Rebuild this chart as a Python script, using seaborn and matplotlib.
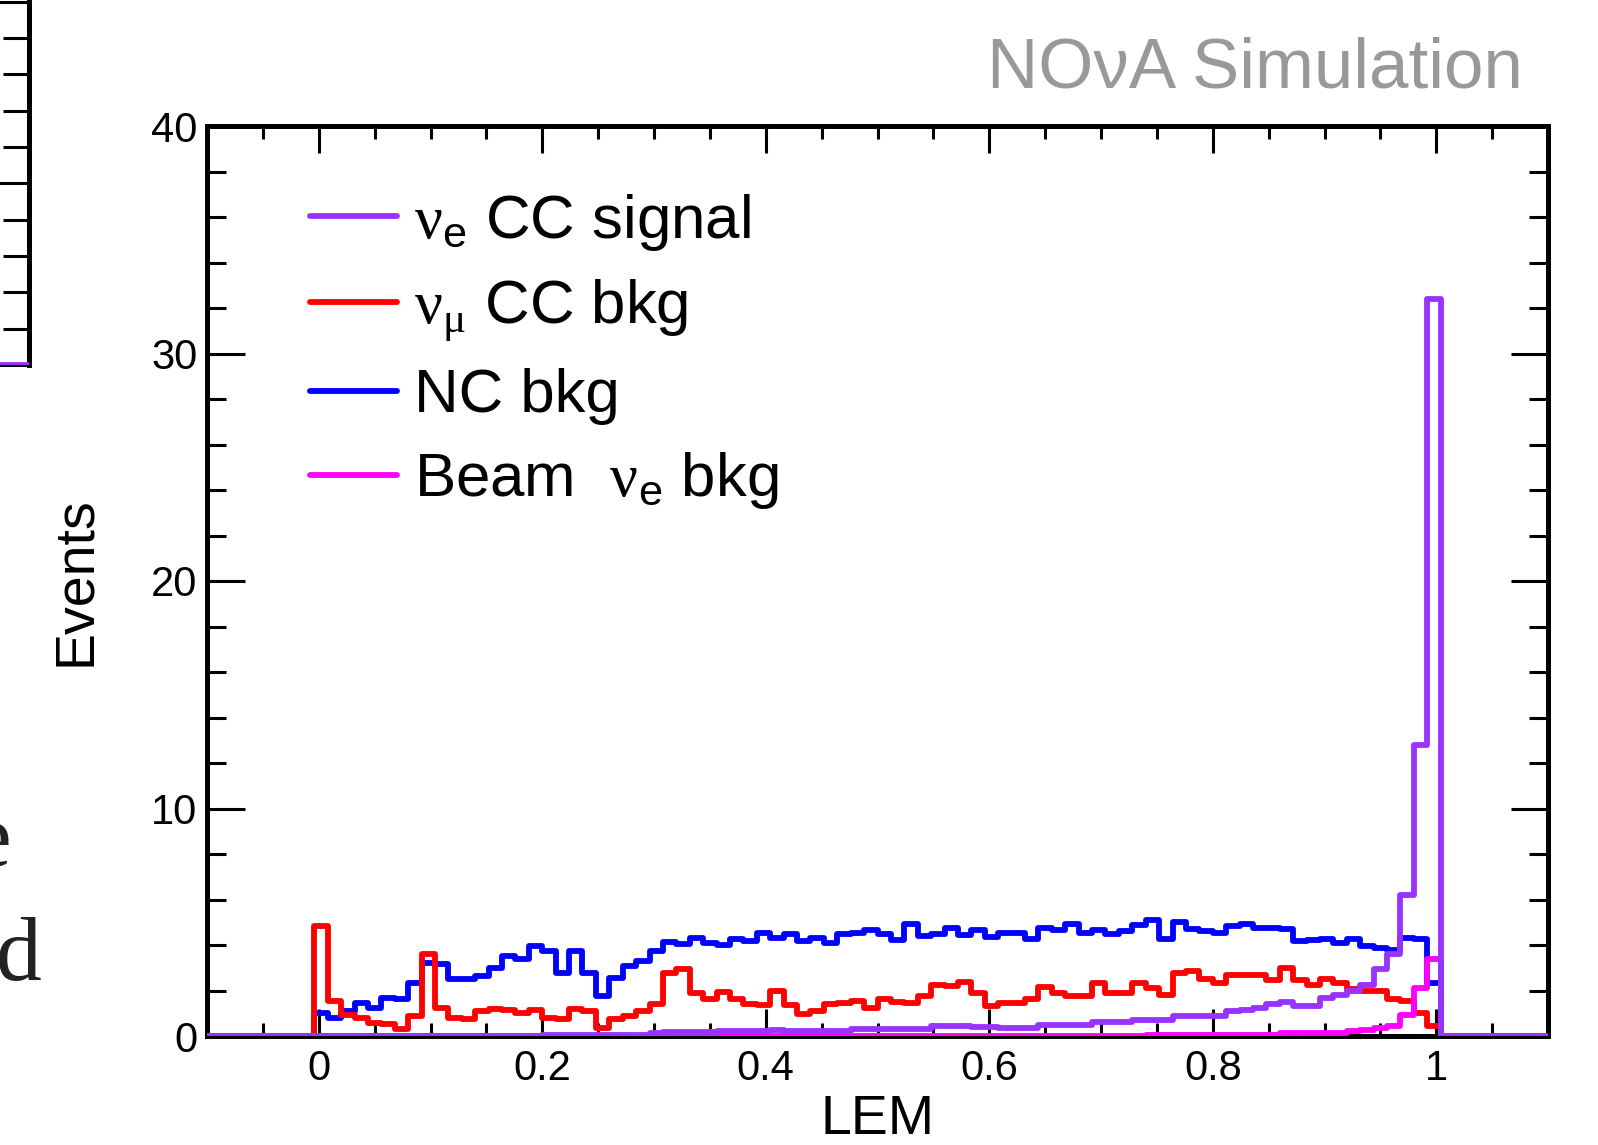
import numpy as np
import matplotlib.pyplot as plt
import matplotlib.ticker as mticker
import seaborn as sns

# LEM histogram: 100 bins of width 0.012 from -0.1 to 1.1
lem_edges = np.round(np.linspace(-0.1, 1.1, 101), 4)
lem_centers = 0.5 * (lem_edges[:-1] + lem_edges[1:])

nue_signal = [
    0, 0, 0, 0, 0, 0, 0, 0, 0, 0,
    0, 0, 0, 0, 0, 0, 0, 0, 0, 0,
    0, 0, 0, 0, 0, 0.03, 0.03, 0.03, 0.03, 0.03,
    0.03, 0.03, 0.03, 0.13, 0.17, 0.17, 0.17, 0.17, 0.20, 0.20,
    0.20, 0.20, 0.28, 0.24, 0.20, 0.24, 0.24, 0.24, 0.31, 0.31,
    0.31, 0.30, 0.30, 0.32, 0.43, 0.43, 0.43, 0.38, 0.38, 0.33,
    0.33, 0.33, 0.50, 0.50, 0.50, 0.50, 0.62, 0.62, 0.62, 0.72,
    0.72, 0.72, 0.87, 0.87, 0.87, 0.87, 1.10, 1.16, 1.25, 1.40,
    1.50, 1.34, 1.34, 1.68, 1.80, 1.97, 2.26, 2.93, 3.59, 6.20,
    12.8, 32.4, 0, 0, 0, 0, 0, 0, 0, 0,
]
numu_cc = [
    0, 0, 0, 0, 0, 0, 0, 0, 4.85, 1.55,
    0.92, 0.80, 0.58, 0.51, 0.32, 0.87, 3.60, 1.24, 0.80, 0.73,
    1.10, 1.20, 1.14, 1.00, 1.14, 0.80, 0.73, 1.17, 1.10, 0.37,
    0.76, 0.87, 1.10, 1.39, 2.78, 2.96, 1.90, 1.61, 1.93, 1.61,
    1.39, 1.35, 1.97, 1.35, 0.95, 1.10, 1.39, 1.46, 1.54, 1.24,
    1.61, 1.50, 1.44, 1.76, 2.26, 2.19, 2.37, 1.90, 1.31, 1.43,
    1.43, 1.63, 2.16, 1.90, 1.75, 1.75, 2.31, 1.90, 1.90, 2.31,
    2.12, 1.82, 2.75, 2.85, 2.49, 2.34, 2.66, 2.66, 2.66, 2.44,
    2.99, 2.44, 2.26, 2.49, 2.34, 2.07, 1.97, 1.97, 1.63, 1.53,
    1.02, 0.43, 0, 0, 0, 0, 0, 0, 0, 0,
]
nc_bkg = [
    0, 0, 0, 0, 0, 0, 0, 0, 1.00, 0.80,
    1.10, 1.46, 1.24, 1.68, 1.61, 2.34, 3.22, 3.15, 2.49, 2.52,
    2.63, 3.00, 3.52, 3.40, 3.95, 3.74, 2.78, 3.74, 2.75, 1.75,
    2.55, 3.07, 3.29, 3.74, 4.13, 4.03, 4.32, 4.10, 3.98, 4.28,
    4.18, 4.51, 4.32, 4.47, 4.18, 4.32, 4.10, 4.47, 4.51, 4.66,
    4.47, 4.22, 4.91, 4.40, 4.47, 4.76, 4.43, 4.66, 4.37, 4.54,
    4.54, 4.25, 4.76, 4.66, 4.91, 4.54, 4.66, 4.47, 4.62, 4.87,
    5.10, 4.25, 5.01, 4.72, 4.62, 4.54, 4.84, 4.91, 4.76, 4.76,
    4.70, 4.18, 4.22, 4.28, 4.07, 4.28, 3.96, 3.85, 3.80, 4.32,
    4.28, 2.34, 0, 0, 0, 0, 0, 0, 0, 0,
]
beam_nue = [
    0, 0, 0, 0, 0, 0, 0, 0, 0, 0,
    0, 0, 0, 0, 0, 0, 0, 0, 0, 0,
    0, 0, 0, 0, 0, 0, 0, 0, 0, 0,
    0, 0, 0, 0, 0, 0, 0, 0, 0, 0,
    0.02, 0.02, 0.02, 0.02, 0.02, 0.02, 0.02, 0.02, 0.02, 0.02,
    0.02, 0.02, 0.02, 0.02, 0.02, 0.02, 0.02, 0.02, 0.02, 0.02,
    0.02, 0.02, 0.02, 0.02, 0.02, 0.02, 0.02, 0.02, 0.02, 0.02,
    0.06, 0.06, 0.06, 0.06, 0.06, 0.06, 0.06, 0.06, 0.06, 0.06,
    0.13, 0.13, 0.13, 0.13, 0.13, 0.20, 0.25, 0.35, 0.42, 0.94,
    2.10, 3.37, 0, 0, 0, 0, 0, 0, 0, 0,
]

labels = [r"$\mathrm{\nu}_{\mathsf{e}}$ CC signal",
          r"$\mathrm{\nu}_{\mathrm{\mu}}$ CC bkg",
          "NC bkg",
          r"Beam  $\mathrm{\nu}_{\mathsf{e}}$ bkg"]
colors = ["#9933ff", "#ff0000", "#0000ff", "#ff00ff"]

# neighbouring panel that is cut off on the left edge
left_x = [0, 1]
left_tail = [0, 0]

sns.set_style("ticks")
plt.rcParams['font.family'] = ['Liberation Sans', 'DejaVu Sans']
plt.rcParams['mathtext.fontset'] = 'custom'
plt.rcParams['mathtext.rm'] = 'Liberation Serif'
plt.rcParams['mathtext.sf'] = 'Liberation Sans'
plt.rcParams['mathtext.it'] = 'Liberation Sans:italic'
plt.rcParams['text.color'] = 'black'
plt.rcParams['axes.labelcolor'] = 'black'

W, H = 1598, 1145
fig = plt.figure(figsize=(W / 100, H / 100), dpi=100)
ax = fig.add_axes([207 / W, 1 - 1036 / H, (1548 - 207) / W, (1036 - 126) / H])

series = [nue_signal, numu_cc, nc_bkg, beam_nue]
# drawing order: NC, numu, beam nue, signal on top
for i in [2, 1, 3, 0]:
    sns.histplot(x=lem_centers, weights=series[i], bins=list(lem_edges), element="step",
                 fill=False, color=colors[i], linewidth=4.2, label=labels[i],
                 ax=ax, zorder=3)

ax.set_xlim(-0.1, 1.1)
ax.set_ylim(0, 40)
ax.xaxis.set_major_locator(mticker.MultipleLocator(0.2))
ax.xaxis.set_minor_locator(mticker.MultipleLocator(0.05))
ax.xaxis.set_major_formatter(mticker.FormatStrFormatter('%g'))
ax.yaxis.set_major_locator(mticker.MultipleLocator(10))
ax.yaxis.set_minor_locator(mticker.MultipleLocator(2))
ax.tick_params(axis='both', which='both', direction='in', top=True, right=True,
               width=2.2, colors='black', labelsize=30)
ax.tick_params(axis='x', which='major', length=19.5, pad=9)
ax.tick_params(axis='x', which='minor', length=9.7)
ax.tick_params(axis='y', which='major', length=27, pad=7)
ax.tick_params(axis='y', which='minor', length=13.7)
for s in ax.spines.values():
    s.set_linewidth(3.6)
    s.set_color('black')

ax.set_xlabel("LEM", fontsize=40, labelpad=4)
ax.set_ylabel("Events", fontsize=40, labelpad=35)

handles, labs = ax.get_legend_handles_labels()
order = [labs.index(l) for l in labels]
leg = ax.legend([handles[j] for j in order], [labs[j] for j in order],
                loc='upper left', bbox_to_anchor=(0.077, 0.928), frameon=False,
                fontsize=44.5, handlelength=1.4, handletextpad=0.28,
                borderpad=0, borderaxespad=0, labelspacing=0.4)
for t in leg.get_texts():
    t.set_color('black')

fig.text(1523 / W, 1 - 87 / H, "NO\u03bdA Simulation", color='#999999',
         fontsize=51, ha='right', va='baseline')

# cut-off neighbouring panel
axl = fig.add_axes([-0.3, 1 - 365 / H, 0.3 + 29 / W, 365 / H])
sns.lineplot(x=left_x, y=left_tail, color=colors[0], linewidth=4.2, ax=axl, zorder=3)
axl.set_xlim(0, 1)
axl.set_ylim(0, 10.05)
for k in ['left', 'top', 'bottom']:
    axl.spines[k].set_visible(False)
axl.spines['right'].set_linewidth(3.6)
axl.spines['right'].set_color('black')
axl.yaxis.set_major_locator(mticker.MultipleLocator(5))
axl.yaxis.set_minor_locator(mticker.MultipleLocator(1))
axl.tick_params(axis='y', which='both', direction='in', left=False, right=True,
                labelleft=False, width=2.2, colors='black')
axl.tick_params(axis='y', which='major', length=30)
axl.tick_params(axis='y', which='minor', length=19)
axl.tick_params(axis='x', which='both', bottom=False, labelbottom=False)
axl.set_xlabel("")
axl.set_ylabel("")

fig.text(-30 / W, 1 - 866 / H, "e", fontsize=66, family='Liberation Serif',
         color='#222222', va='baseline', ha='left')
fig.text(-4 / W, 1 - 980 / H, "d", fontsize=66, family='Liberation Serif',
         color='#222222', va='baseline', ha='left')

fig.savefig("out.png", dpi=100)
